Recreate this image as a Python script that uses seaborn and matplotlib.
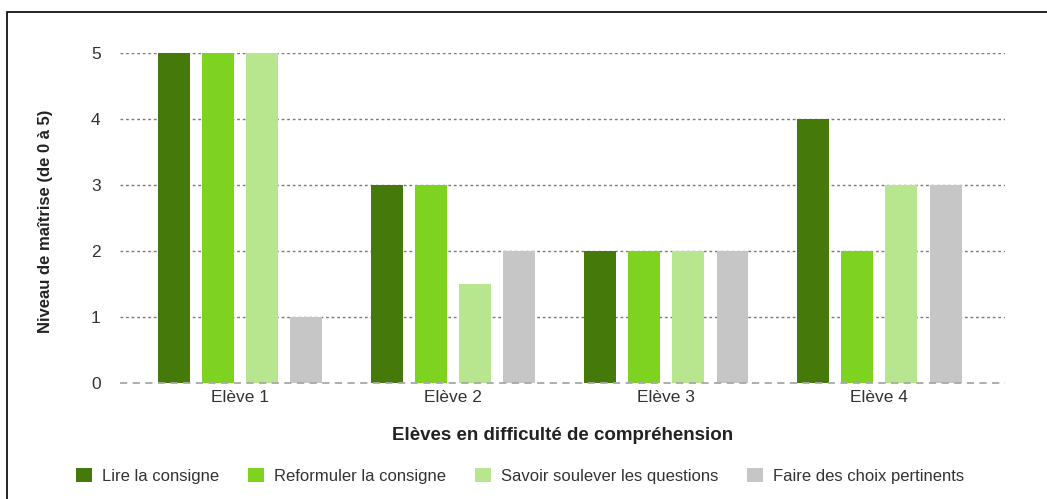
import numpy as np
import pandas as pd
import seaborn as sns
import matplotlib.pyplot as plt
from matplotlib.patches import Rectangle

# data
eleves = ["Elève 1", "Elève 2", "Elève 3", "Elève 4"]
competences = ["Lire la consigne", "Reformuler la consigne",
               "Savoir soulever les questions", "Faire des choix pertinents"]
lire = [5, 3, 2, 4]
reformuler = [5, 3, 2, 2]
savoir = [5, 1.5, 2, 3]
faire = [1, 2, 2, 3]
couleurs = ["#457a0a", "#7ed321", "#b8e68f", "#c6c6c6"]

rows = []
for comp, vals in zip(competences, [lire, reformuler, savoir, faire]):
    for e, v in zip(eleves, vals):
        rows.append({"eleve": e, "competence": comp, "niveau": v})
df = pd.DataFrame(rows)

sns.set_style("white")
plt.rcParams["font.family"] = ["Liberation Sans", "DejaVu Sans"]

fig = plt.figure(figsize=(10.47, 4.99), dpi=100)
ax = fig.add_axes([120/1047, 1-383/499, (1005-120)/1047, (383-53)/499])

sns.barplot(data=df, x="eleve", y="niveau", hue="competence",
            hue_order=competences, palette=couleurs, width=0.83, gap=0.28,
            saturation=1, linewidth=0, ax=ax, legend=True, zorder=3)

ax.set_xlim(-0.563, 3.59)
ax.set_ylim(0, 5)
ax.set_yticks(range(6))
for y in range(1, 6):
    ax.axhline(y, color="#7a7a7a", lw=1, ls=(0, (2, 2)), zorder=1)
ax.axhline(0, color="#a8a8a8", lw=1.3, ls=(0, (4, 3)), zorder=4, clip_on=False)
sns.despine(ax=ax, left=True, bottom=True)
ax.tick_params(axis="both", length=0, labelsize=12.5, labelcolor="#333333")
ax.tick_params(axis="y", pad=14)
ax.tick_params(axis="x", pad=5)

ax.set_xlabel("Elèves en difficulté de compréhension", fontsize=13.5,
              fontweight="bold", color="#222222", labelpad=16)
ax.set_ylabel("Niveau de maîtrise (de 0 à 5)", fontsize=12,
              fontweight="bold", color="#222222")
ax.yaxis.set_label_coords(-0.076, 0.49)

ax.get_legend().remove()
handles, labels = ax.get_legend_handles_labels()
fig.legend(handles, labels, loc="center", bbox_to_anchor=(520/1047, 1-476/499),
           ncol=4, frameon=False, fontsize=12, handlelength=0.95,
           handleheight=0.95, handletextpad=0.6, columnspacing=1.75,
           labelcolor="#333333")

# cadre noir de la capture
fig.patches.append(Rectangle((7/1047, -0.1), 1.2, 1-12/499+0.1, transform=fig.transFigure,
                             fill=False, edgecolor="black", lw=1.2))

plt.savefig("out.png", dpi=100)
